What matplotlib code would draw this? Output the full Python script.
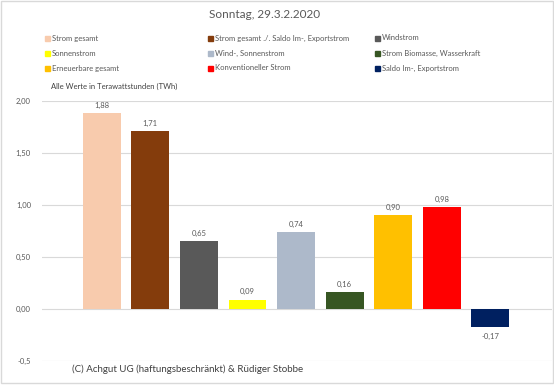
import matplotlib.pyplot as plt
from matplotlib.patches import Rectangle

kategorien = ["Strom gesamt", "Strom gesamt ./. Saldo Im-, Exportstrom", "Windstrom",
              "Sonnenstrom", "Wind-, Sonnenstrom", "Strom Biomasse, Wasserkraft",
              "Erneuerbare gesamt", "Konventioneller Strom", "Saldo Im-, Exportstrom"]
werte = [1.88, 1.71, 0.65, 0.09, 0.74, 0.16, 0.90, 0.98, -0.17]
farben = ["#F8CBAD", "#843C0C", "#595959", "#FFFF00", "#ADB9CA",
          "#375623", "#FFC000", "#FF0000", "#002060"]
y_ticks = [-0.5, 0.0, 0.5, 1.0, 1.5, 2.0]
y_labels = ["-0,5", "0,00", "0,50", "1,00", "1,50", "2,00"]

plt.rcParams['font.family'] = ['Lato', 'DejaVu Sans']
grau = "#595959"

fig = plt.figure(figsize=(5.54, 3.85), dpi=100)
ax = fig.add_axes([42/554, 24/385, 510/554, 260/385])

x = list(range(len(werte)))
ax.bar(x, werte, width=0.78, color=farben, zorder=3)
for xi, w in zip(x, werte):
    txt = f"{w:.2f}".replace(".", ",")
    if w >= 0:
        ax.text(xi, w + 0.04, txt, ha="center", va="bottom", fontsize=5.5, color=grau)
    else:
        ax.text(xi, w - 0.06, txt, ha="center", va="top", fontsize=5.5, color=grau)

ax.set_xlim(-1.23, 9.27)
ax.set_ylim(-0.5, 2.0)
ax.set_yticks(y_ticks)
ax.set_yticklabels(y_labels, fontsize=5.5, color=grau)
ax.set_xticks([])
ax.tick_params(axis="y", length=0, pad=8)
ax.grid(axis="y", color="#D9D9D9", linewidth=0.8, zorder=0)
for s in ax.spines.values():
    s.set_visible(False)

fig.text(0.478, 1 - 14/385, "Sonntag, 29.3.2.2020", ha="center", va="center",
         fontsize=8.5, color=grau)

# Legende, 3 Spalten
spalten_x = [45, 208, 375]
zeilen_y = [38, 53, 68]
for i, (name, farbe) in enumerate(zip(kategorien, farben)):
    px = spalten_x[i % 3]
    py = zeilen_y[i // 3]
    fig.patches.append(Rectangle((px/554, 1 - (py + 2.5)/385), 5/554, 5/385,
                                 transform=fig.transFigure, color=farbe))
    fig.text((px + 7)/554, 1 - py/385, name, ha="left", va="center",
             fontsize=5.5, color=grau)

fig.text(51/554, 1 - 86/385, "Alle Werte in Terawattstunden (TWh)", ha="left",
         va="center", fontsize=5.5, color="#404040")

fig.text(72/554, 1 - 369/385, "(C) Achgut UG (haftungsbeschränkt) & Rüdiger Stobbe",
         ha="left", va="center", fontsize=7, color="#404040",
         bbox=dict(facecolor="white", edgecolor="none", pad=2))

fig.patches.append(Rectangle((0.001, 0.004), 0.997, 0.994, transform=fig.transFigure,
                             fill=False, edgecolor="#D9D9D9", linewidth=1))

fig.savefig("out.png", dpi=100)
